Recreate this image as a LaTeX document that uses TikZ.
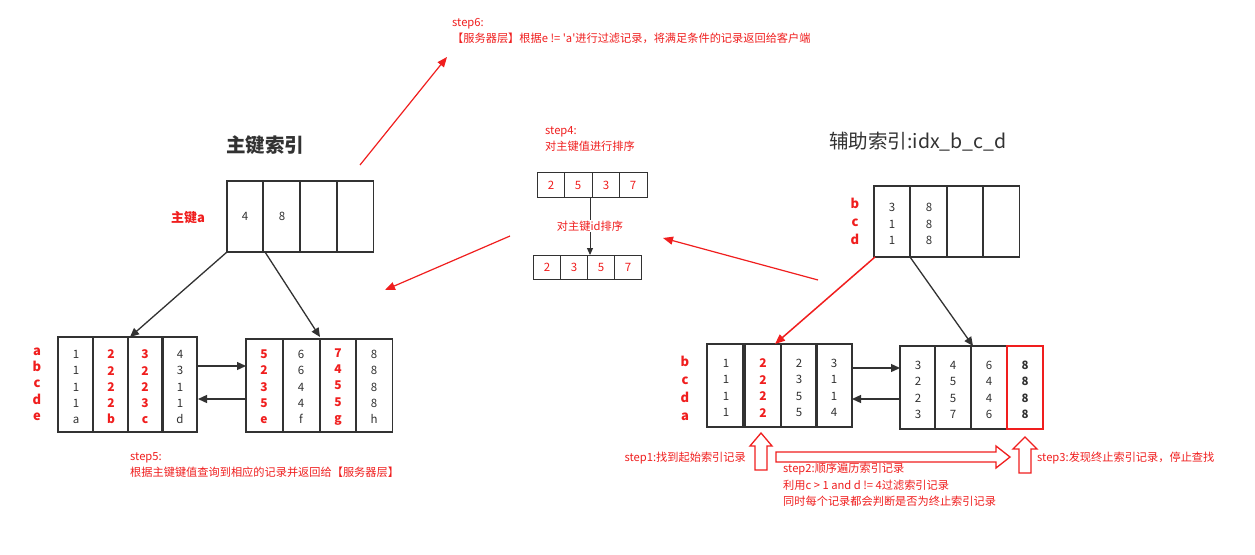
\documentclass[tikz,border=0pt]{standalone}
\usepackage{fontspec}
\newfontfamily\cjk{Noto Sans CJK SC}
\usetikzlibrary{arrows.meta}
\definecolor{rd}{RGB}{240,30,30}
\definecolor{dk}{RGB}{50,50,50}
\tikzset{
 cell/.style={draw=dk,line width=1.3pt},
 rcell/.style={draw=rd,line width=1.3pt},
 val/.style={font=\fontsize{11.5}{16.3}\selectfont,text=dk,inner sep=0pt,align=center},
 rval/.style={font=\bfseries\fontsize{12}{16.3}\selectfont,text=rd,inner sep=0pt,align=center},
 lab/.style={font=\bfseries\fontsize{13}{16.3}\selectfont,text=rd,inner sep=0pt,align=center},
 note/.style={font=\fontsize{11.2}{16}\selectfont,text=rd,inner sep=0pt,anchor=west,align=left},
 title/.style={font=\bfseries\fontsize{19.5}{22}\selectfont,text=dk,inner sep=0pt},
 barr/.style={-{Triangle[length=9pt,width=8pt]},dk,line width=1.3pt},
 rarr/.style={-{Triangle[length=10pt,width=8pt]},rd,line width=1.2pt},
 hollow/.style={draw=rd,line width=1.3pt,fill=white},
}
\begin{document}
\cjk
\begin{tikzpicture}[x=1pt,y=-1pt]
\fill[white] (0,0) rectangle (1255,554);
% ---------- primary index ----------
\node[title] (t1) at (265,145) {主键索引};
\node[lab] (pa) at (188,218) {主键a};
\foreach \x in {227,263,300,337}{\draw[cell] (\x,181) rectangle ++(36.5,71);}
\node[val] (p1) at (245,216) {4};
\node[val] (p2) at (282,216) {8};
\coordinate (pr1) at (227,252); \coordinate (pr2) at (265,252);
% left leaf
\foreach \x in {58,93,128,162}{\draw[cell] (\x,337) rectangle ++(35,95);}
\node[lab] (labL) at (37,384) {a\\b\\c\\d\\e};
\node[val] (l1) at (76,387) {1\\1\\1\\1\\a};
\node[rval] (l2) at (111,387) {2\\2\\2\\2\\b};
\node[rval] (l3) at (145,387) {3\\2\\2\\3\\c};
\node[val] (l4) at (180,387) {4\\3\\1\\1\\d};
% right leaf
\foreach \x in {246,283,320,356}{\draw[cell] (\x,339) rectangle ++(36.5,93);}
\node[rval] (m1) at (264,387) {5\\2\\3\\5\\e};
\node[val] (m2) at (301,387) {6\\6\\4\\4\\f};
\node[rval] (m3) at (338,387) {7\\4\\5\\5\\g};
\node[val] (m4) at (374,387) {8\\8\\8\\8\\h};
\coordinate (la) at (130,337); \coordinate (ma) at (320,337);
\draw[barr] (pr1) -- (la);
\draw[barr] (pr2) -- (ma);
\coordinate (h1a) at (198,366); \coordinate (h1b) at (246,366);
\coordinate (h2a) at (246,399); \coordinate (h2b) at (198,399);
\draw[barr] (h1a) -- (h1b);
\draw[barr] (h2a) -- (h2b);
\node[note] (s5) at (130,465) {step5:\\根据主键键值查询到相应的记录并返回给【服务器层】};
% step6
\node[note] (s6) at (452,31) {step6:\\【服务器层】根据e != 'a'进行过滤记录，将满足条件的记录返回给客户端};
\coordinate (s6a) at (360,165); \coordinate (s6b) at (447,57);
\draw[rarr] (s6a) -- (s6b);
% ---------- middle ----------
\node[note] (s4) at (545,139) {step4:\\对主键值进行排序};
\foreach \x in {537,564.5,592,619.5}{\draw[draw=dk,line width=1pt] (\x,172) rectangle ++(27.5,25);}
\node[val,text=rd] (a1) at (551,185) {2};
\node[val,text=rd] (a2) at (578,185) {5};
\node[val,text=rd] (a3) at (606,185) {3};
\node[val,text=rd] (a4) at (633,185) {7};
\foreach \x in {533,560,587,614}{\draw[draw=dk,line width=1pt] (\x,255) rectangle ++(27,24);}
\node[val,text=rd] (b1) at (547,267) {2};
\node[val,text=rd] (b2) at (574,267) {3};
\node[val,text=rd] (b3) at (601,267) {5};
\node[val,text=rd] (b4) at (628,267) {7};
\coordinate (mt) at (590,197); \coordinate (mb) at (590,255);
\draw[-{Triangle[length=7pt,width=6pt]},dk,line width=1pt] (mt) -- (mb);
\node[note,anchor=center,fill=white,inner sep=1pt] (sortid) at (590,226) {对主键id排序};
\coordinate (ra1) at (510,236); \coordinate (ra2) at (385,290);
\draw[rarr] (ra1) -- (ra2);
\coordinate (ra3) at (818,280); \coordinate (ra4) at (663,238);
\draw[rarr] (ra3) -- (ra4);
% ---------- secondary index ----------
\node[title,font=\fontsize{19.5}{22}\selectfont] (t2) at (918,142) {辅助索引:idx\_b\_c\_d};
\node[lab,font=\bfseries\fontsize{13}{18}\selectfont] (labT) at (855,221) {b\\c\\d};
\foreach \x in {874,910,947,983}{\draw[cell] (\x,186) rectangle ++(36.5,71);}
\node[val,font=\fontsize{11.5}{16.5}\selectfont] (q1) at (892,224) {3\\1\\1};
\node[val,font=\fontsize{11.5}{16.5}\selectfont] (q2) at (929,224) {8\\8\\8};
\coordinate (qr1) at (875,257); \coordinate (qr2) at (910,257);
\foreach \x in {707,745,781,816}{\draw[cell] (\x,344) rectangle ++(36,83);}
\node[lab,font=\bfseries\fontsize{13}{18}\selectfont] (labS) at (685,388) {b\\c\\d\\a};
\node[val,font=\fontsize{11.5}{16.5}\selectfont] (n1) at (726,388) {1\\1\\1\\1};
\node[rval,font=\bfseries\fontsize{12}{16.5}\selectfont] (n2) at (763,388) {2\\2\\2\\2};
\node[val,font=\fontsize{11.5}{16.5}\selectfont] (n3) at (799,388) {2\\3\\5\\5};
\node[val,font=\fontsize{11.5}{16.5}\selectfont] (n4) at (834,388) {3\\1\\1\\4};
\foreach \x in {900,935,971}{\draw[cell] (\x,346) rectangle ++(35.5,83);}
\draw[rcell] (1007,346) rectangle ++(36,83);
\node[val,font=\fontsize{11.5}{16.5}\selectfont] (o1) at (918,390) {3\\2\\2\\3};
\node[val,font=\fontsize{11.5}{16.5}\selectfont] (o2) at (953,390) {4\\5\\5\\7};
\node[val,font=\fontsize{11.5}{16.5}\selectfont] (o3) at (989,390) {6\\4\\4\\6};
\node[val,font=\bfseries\fontsize{11.5}{16.5}\selectfont] (o4) at (1025,390) {8\\8\\8\\8};
\coordinate (na) at (775,344); \coordinate (oa) at (973,346);
\draw[rarr,line width=1.5pt] (qr1) -- (na);
\draw[barr] (qr2) -- (oa);
\coordinate (g1a) at (852,368); \coordinate (g1b) at (900,368);
\coordinate (g2a) at (900,399); \coordinate (g2b) at (852,399);
\draw[barr] (g1a) -- (g1b);
\draw[barr] (g2a) -- (g2b);
% hollow arrows
\draw[hollow] (755,470) -- (755,446) -- (750,446) -- (761,433) -- (772,446) -- (767,446) -- (767,470) -- cycle;
\draw[hollow] (776,452) -- (996,452) -- (996,446) -- (1010,457) -- (996,468) -- (996,462) -- (776,462) -- cycle;
\draw[hollow] (1019,473) -- (1019,449) -- (1013,449) -- (1025,437) -- (1037,449) -- (1031,449) -- (1031,473) -- cycle;
\node[note,anchor=east] (s1) at (746,458) {step1:找到起始索引记录};
\node[note,anchor=north west,font=\fontsize{11.2}{16.5}\selectfont] (s2) at (783,463) {step2:顺序遍历索引记录\\利用c > 1 and d != 4过滤索引记录\\同时每个记录都会判断是否为终止索引记录};
\node[note] (s3) at (1037,458) {step3:发现终止索引记录，停止查找};
\end{tikzpicture}
\end{document}
